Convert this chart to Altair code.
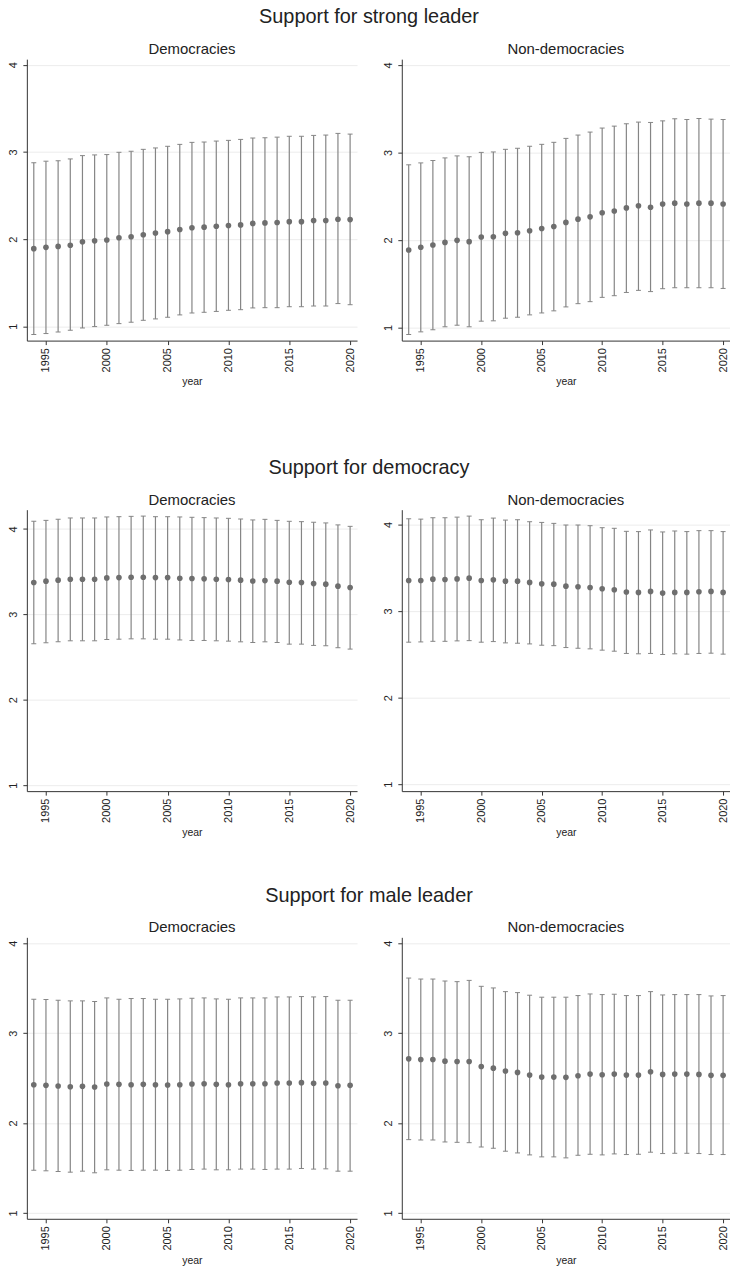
import altair as alt
import pandas as pd

# Survey years
years = list(range(1994, 2021))

# Support for strong leader -- democracies
strong_dem_mean = [1.89, 1.905, 1.916, 1.93, 1.97, 1.98, 1.99, 2.015, 2.027, 2.05, 2.07, 2.085, 2.11, 2.13,
                   2.137, 2.148, 2.156, 2.163, 2.18, 2.186, 2.19, 2.20, 2.20, 2.213, 2.213, 2.228, 2.224]
strong_dem_hi = [2.875, 2.894, 2.90, 2.92, 2.958, 2.966, 2.97, 2.996, 3.008, 3.03, 3.046, 3.065, 3.087, 3.11,
                 3.114, 3.125, 3.133, 3.144, 3.16, 3.163, 3.17, 3.18, 3.18, 3.19, 3.194, 3.213, 3.205]
strong_dem_lo = [0.905, 0.916, 0.935, 0.954, 0.98, 0.996, 1.011, 1.03, 1.046, 1.068, 1.084, 1.103, 1.13, 1.152,
                 1.16, 1.17, 1.183, 1.19, 1.21, 1.213, 1.213, 1.224, 1.224, 1.232, 1.232, 1.26, 1.247]

# Support for strong leader -- non-democracies
strong_non_mean = [1.885, 1.916, 1.942, 1.972, 1.995, 1.98, 2.033, 2.037, 2.075, 2.082, 2.105, 2.13, 2.154, 2.20,
                   2.237, 2.264, 2.31, 2.33, 2.366, 2.39, 2.373, 2.41, 2.42, 2.41, 2.42, 2.42, 2.41]
strong_non_hi = [2.858, 2.88, 2.907, 2.937, 2.96, 2.95, 3.0, 3.005, 3.035, 3.047, 3.07, 3.092, 3.115, 3.16,
                 3.198, 3.232, 3.278, 3.30, 3.327, 3.346, 3.342, 3.36, 3.384, 3.376, 3.387, 3.38, 3.376]
strong_non_lo = [0.92, 0.95, 0.974, 1.008, 1.026, 1.008, 1.072, 1.076, 1.106, 1.117, 1.144, 1.166, 1.19, 1.235,
                 1.272, 1.295, 1.344, 1.363, 1.40, 1.424, 1.41, 1.443, 1.454, 1.454, 1.454, 1.454, 1.446]

# Support for democracy -- democracies
demo_dem_mean = [3.372, 3.388, 3.40, 3.41, 3.41, 3.41, 3.426, 3.43, 3.434, 3.434, 3.43, 3.43, 3.422, 3.419,
                 3.415, 3.41, 3.407, 3.40, 3.39, 3.395, 3.388, 3.376, 3.372, 3.36, 3.353, 3.33, 3.314]
demo_dem_hi = [4.089, 4.10, 4.112, 4.128, 4.128, 4.128, 4.14, 4.143, 4.147, 4.15, 4.143, 4.143, 4.14, 4.136,
               4.132, 4.128, 4.124, 4.116, 4.105, 4.112, 4.10, 4.089, 4.085, 4.078, 4.07, 4.047, 4.03]
demo_dem_lo = [2.655, 2.667, 2.678, 2.69, 2.69, 2.69, 2.705, 2.709, 2.713, 2.713, 2.709, 2.709, 2.70, 2.694,
               2.694, 2.69, 2.686, 2.678, 2.67, 2.678, 2.67, 2.651, 2.651, 2.636, 2.632, 2.609, 2.593]

# Support for democracy -- non-democracies
demo_non_mean = [3.352, 3.352, 3.368, 3.364, 3.371, 3.379, 3.352, 3.36, 3.345, 3.345, 3.33, 3.314, 3.31, 3.287,
                 3.28, 3.272, 3.257, 3.245, 3.219, 3.215, 3.226, 3.207, 3.215, 3.215, 3.223, 3.226, 3.215]
demo_non_hi = [4.065, 4.061, 4.077, 4.077, 4.084, 4.096, 4.054, 4.073, 4.05, 4.054, 4.031, 4.023, 4.012, 3.993,
               3.993, 3.985, 3.962, 3.955, 3.92, 3.917, 3.936, 3.913, 3.924, 3.917, 3.928, 3.928, 3.917]
demo_non_lo = [2.64, 2.643, 2.65, 2.65, 2.655, 2.658, 2.64, 2.647, 2.632, 2.628, 2.62, 2.605, 2.60, 2.578,
               2.57, 2.563, 2.548, 2.536, 2.51, 2.506, 2.51, 2.498, 2.506, 2.502, 2.51, 2.513, 2.502]

# Support for male leader -- democracies
male_dem_mean = [2.426, 2.419, 2.412, 2.404, 2.408, 2.40, 2.434, 2.43, 2.426, 2.43, 2.426, 2.423, 2.426, 2.434,
                 2.437, 2.43, 2.426, 2.437, 2.437, 2.437, 2.445, 2.445, 2.449, 2.441, 2.445, 2.415, 2.419]
male_dem_hi = [3.377, 3.374, 3.366, 3.359, 3.359, 3.352, 3.392, 3.377, 3.385, 3.385, 3.377, 3.377, 3.381, 3.388,
               3.392, 3.381, 3.377, 3.392, 3.392, 3.392, 3.403, 3.403, 3.407, 3.403, 3.407, 3.366, 3.366]
male_dem_lo = [1.475, 1.468, 1.461, 1.453, 1.464, 1.446, 1.479, 1.475, 1.472, 1.475, 1.475, 1.472, 1.475, 1.483,
               1.487, 1.479, 1.479, 1.487, 1.487, 1.483, 1.487, 1.487, 1.494, 1.487, 1.49, 1.464, 1.464]

# Support for male leader -- non-democracies
male_non_mean = [2.714, 2.707, 2.707, 2.688, 2.684, 2.684, 2.629, 2.61, 2.578, 2.563, 2.533, 2.511, 2.511, 2.508,
                 2.526, 2.544, 2.537, 2.544, 2.533, 2.533, 2.57, 2.541, 2.544, 2.544, 2.541, 2.53, 2.53]
male_non_hi = [3.613, 3.602, 3.602, 3.58, 3.573, 3.587, 3.521, 3.503, 3.462, 3.451, 3.422, 3.40, 3.40, 3.40,
               3.418, 3.436, 3.429, 3.433, 3.418, 3.418, 3.462, 3.425, 3.429, 3.429, 3.429, 3.414, 3.418]
male_non_lo = [1.815, 1.811, 1.811, 1.789, 1.785, 1.781, 1.733, 1.719, 1.686, 1.667, 1.645, 1.623, 1.623, 1.612,
               1.641, 1.652, 1.645, 1.656, 1.649, 1.652, 1.675, 1.66, 1.663, 1.663, 1.66, 1.649, 1.649]

x_ticks = [1995, 2000, 2005, 2010, 2015, 2020]
y_ticks = [1, 2, 3, 4]

FONT = "Liberation Sans"
TEXT = "#222222"
BAR = "#858585"
DOT = "#6e6e6e"


def panel(name, mean, lo, hi, ydom, width):
    df = pd.DataFrame({"year": years, "mean": mean, "lo": lo, "hi": hi})
    xs = alt.Scale(domain=[1993.43, 2020.57], nice=False, zero=False)
    ys = alt.Scale(domain=ydom, nice=False, zero=False)
    xaxis = alt.Axis(values=x_ticks, format="d", labelAngle=270, title="year", grid=False,
                     tickSize=4, labelPadding=3, titlePadding=5)
    yaxis = alt.Axis(values=y_ticks, format="d", labelAngle=270, title=None, grid=True,
                     tickSize=4, labelPadding=4)
    base = alt.Chart(df)
    bars = base.mark_rule(color=BAR, strokeWidth=1.2).encode(
        x=alt.X("year:Q", scale=xs, axis=xaxis),
        y=alt.Y("lo:Q", scale=ys, axis=yaxis),
        y2="hi:Q",
    )
    cap_lo = base.mark_tick(orient="horizontal", size=5, thickness=1, color=BAR, opacity=1).encode(
        x="year:Q", y="lo:Q")
    cap_hi = base.mark_tick(orient="horizontal", size=5, thickness=1, color=BAR, opacity=1).encode(
        x="year:Q", y="hi:Q")
    dots = base.mark_circle(size=32, color=DOT, opacity=1).encode(x="year:Q", y="mean:Q")
    return alt.layer(bars, cap_lo, cap_hi, dots).properties(
        width=width, height=283,
        title=alt.TitleParams(name, fontSize=15, anchor="middle", offset=2, font=FONT,
                              color=TEXT, fontWeight="normal"),
    )


def row(title, left, right):
    return alt.hconcat(left, right, spacing=26).properties(
        title=alt.TitleParams(title, fontSize=20, anchor="middle", offset=15, font=FONT,
                              color=TEXT, fontWeight="normal")
    )


row1 = row("Support for strong leader",
           panel("Democracies", strong_dem_mean, strong_dem_lo, strong_dem_hi, [0.835, 4.065], 332),
           panel("Non-democracies", strong_non_mean, strong_non_lo, strong_non_hi, [0.85, 4.065], 330))
row2 = row("Support for democracy",
           panel("Democracies", demo_dem_mean, demo_dem_lo, demo_dem_hi, [0.93, 4.225], 332),
           panel("Non-democracies", demo_non_mean, demo_non_lo, demo_non_hi, [0.92, 4.17], 330))
row3 = row("Support for male leader",
           panel("Democracies", male_dem_mean, male_dem_lo, male_dem_hi, [0.934, 4.066], 332),
           panel("Non-democracies", male_non_mean, male_non_lo, male_non_hi, [0.934, 4.066], 330))

chart = alt.vconcat(alt.vconcat(row1, row2, spacing=71), row3, spacing=48).properties(
    padding={"left": 8, "top": 4, "right": 0, "bottom": 0},
    background="white",
).configure_view(stroke=None).configure_axis(
    labelFont=FONT, titleFont=FONT, labelFontSize=11, titleFontSize=10.5,
    labelColor=TEXT, titleColor=TEXT, titleFontWeight="normal",
    domainColor="#333333", domainWidth=1, tickColor="#333333", tickWidth=1,
    gridColor="#ececec", gridWidth=1,
)

chart.save("out.html", embed_options={"renderer": "svg", "actions": False})
